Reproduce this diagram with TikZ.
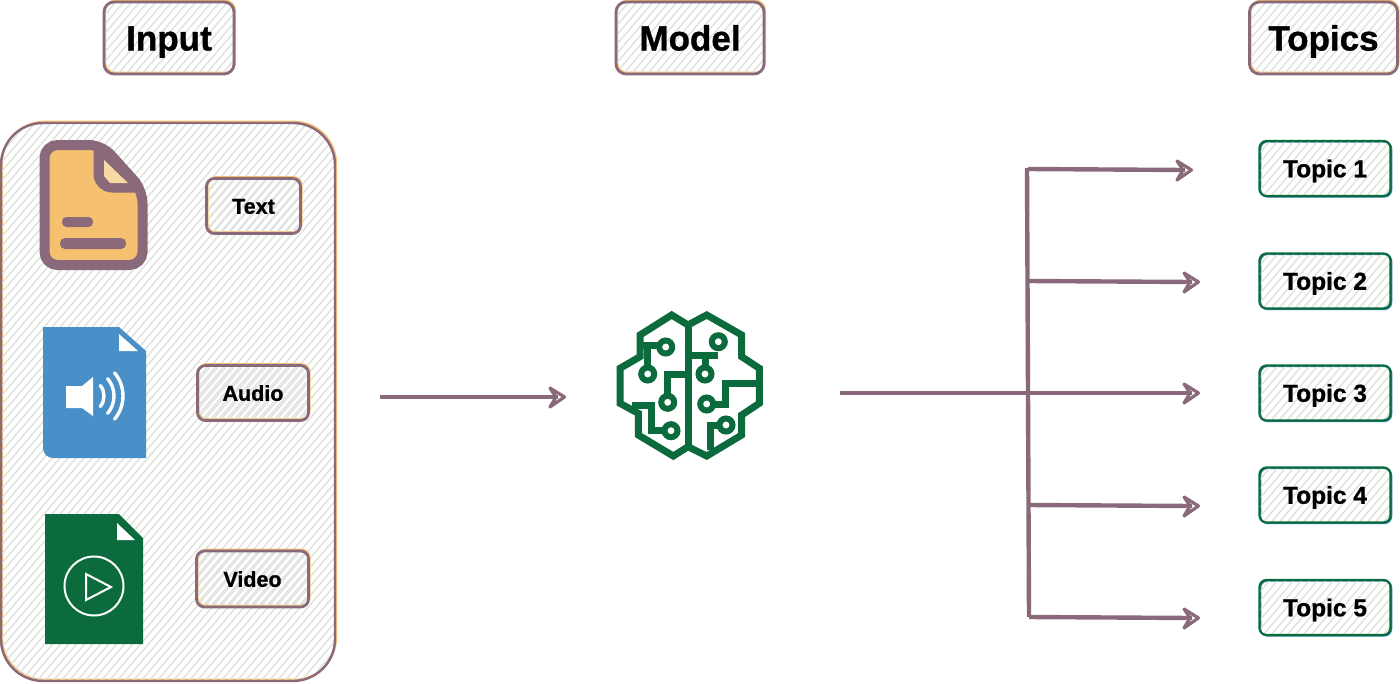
\documentclass[tikz,border=0pt]{standalone}
\usepackage{fontspec}
\setmainfont{Liberation Sans}[BoldFeatures={FakeBold=1}]
\usetikzlibrary{arrows.meta}
\definecolor{plum}{HTML}{8A6A7A}
\definecolor{sand}{HTML}{F5C06F}
\definecolor{sandlight}{HTML}{F8D9A6}
\definecolor{forest}{HTML}{0C6B3C}
\definecolor{sky}{HTML}{4A90C8}
\definecolor{hatchgrey}{HTML}{E0E2DE}
\definecolor{teal}{HTML}{2F7FB0}
\tikzset{
  x=1pt,y=-1pt,
  hatched/.style={path picture={
    \foreach \i [evaluate=\i as \j using {\i+#1}] in {-420,-412,...,420}{
      \draw[hatchgrey,line width=1.3pt] (\i-300,350)--(\i+300,-350);
      \draw[hatchgrey,line width=.7pt] (\j-296,350)--(\j+304,-350);
    }}},
  roughbox/.style={draw=plum,line width=2.8pt,rounded corners=8pt,inner sep=0pt,align=center,font=\bfseries,
    hatched=4,
    preaction={draw=sand,line width=1.8pt,transform canvas={shift={(1.2pt,1.4pt)}}}},
  headbox/.style={roughbox,minimum height=72pt,font=\bfseries\fontsize{35}{35}\selectfont,rounded corners=10pt,text height=25pt,text depth=0pt},
  mediabox/.style={roughbox,font=\bfseries\fontsize{21.5}{21.5}\selectfont,text height=15.5pt,text depth=0pt},
  topicbox/.style={draw=forest,line width=2.2pt,rounded corners=7pt,inner sep=0pt,minimum width=131pt,minimum height=55pt,
    font=\bfseries\fontsize{24.5}{24.5}\selectfont,text height=17.5pt,text depth=0pt,hatched=4,
    preaction={draw=teal,line width=1.5pt,transform canvas={shift={(1pt,-.8pt)}}}},
  flow/.style={draw=plum,line width=4.4pt},
  sketchtip/.pic={\draw[draw=plum,line width=3.2pt,line join=round] (-16,-9) -- (-1.5,0) -- (-16,10) -- (-10,0) -- cycle;},
  trunk/.style={draw=plum,line width=4.4pt},
  brainline/.style={draw=forest,line width=7pt,line join=miter},
  chip/.style={draw=forest,line width=6pt,fill=white,circle,minimum size=13pt,inner sep=0pt},
  waveline/.style={draw=white,line width=3.4pt,line cap=round},
}
\begin{document}
\begin{tikzpicture}
\useasboundingbox (0,0) rectangle (1400,683);
\fill[white] (0,0) rectangle (1400,683);

% headers
\node[headbox,minimum width=130pt] (input) at (169,38) {Input};
\node[headbox,minimum width=148pt] (model) at (690,38) {Model};
\node[headbox,minimum width=148pt] (topics) at (1323.5,38) {Topics};

% input panel
\node[roughbox,rounded corners=42pt,line width=2.4pt,minimum width=334pt,minimum height=558pt] (panel) at (168,402) {};

% document icon
\draw[draw=plum,line width=10pt,fill=sand,rounded corners=13pt] (44.5,145) -- (102,145) -- (142.5,190) -- (142.5,265) -- (44.5,265) -- cycle;
\draw[draw=plum,line width=9pt,rounded corners=14pt] (98,146) -- (98,188) -- (141,188);
\fill[plum] (98,146) -- (104,146) -- (141,188) -- (110,188) -- (98,176) -- cycle;
\fill[sandlight] (104,160) -- (128,183) -- (110,183) -- (104,176) -- cycle;
\fill[plum,rounded corners=4.5pt] (62,217) rectangle (93,227);
\fill[plum,rounded corners=5pt] (60,238) rectangle (126,249);

% audio icon
\fill[sky] (43,327) -- (119,327) -- (146,351) -- (146,458) -- (53,458) arc[start angle=90,end angle=180,radius=10] -- cycle;
\fill[white] (119,334) -- (119,351) -- (138,351) -- cycle;
\fill[white] (66,386) -- (82,386) -- (93,377) -- (93,416) -- (82,408) -- (66,408) -- cycle;
\draw[waveline] (87,396) ++(-38:17) arc[start angle=-38,end angle=38,radius=17];
\draw[waveline] (87,396) ++(-40:27) arc[start angle=-40,end angle=40,radius=27];
\draw[waveline] (87,396) ++(-40:36) arc[start angle=-40,end angle=40,radius=36];

% video icon
\fill[forest] (45,514) -- (119,514) -- (143,538) -- (143,644) -- (45,644) -- cycle;
\fill[white] (117,523) -- (117,540) -- (135,540) -- cycle;
\draw[white,line width=2pt] (94,586) circle[radius=29.5];
\draw[white,line width=2pt,line join=miter] (86,574) -- (86,600) -- (111,587) -- cycle;

% media labels
\node[mediabox,minimum width=94pt,minimum height=55pt] (text) at (253.5,206) {Text};
\node[mediabox,minimum width=111pt,minimum height=55pt] (audio) at (253,393) {Audio};
\node[mediabox,minimum width=112pt,minimum height=56pt] (video) at (252.5,579) {Video};

% brain
\begin{scope}[brainline]
\draw (688,325) -- (671.7,315) -- (640,335) -- (640,356.7) -- (620,368.3) -- (620,403.3) -- (638.3,413.3) -- (638.3,435) -- (673.3,456) -- (688,446.7) -- (706.7,456) -- (741.7,435) -- (741.7,415) -- (759.3,403.3) -- (759.3,368.3) -- (741.7,356.7) -- (741.7,335) -- (706.7,315) -- cycle;
\draw (688,325) -- (688,446.7);
\draw (640,345) -- (665.7,345);
\draw (647.7,345) -- (647.7,367);
\draw (667.7,402) -- (667.7,374) -- (688,374);
\draw (671,430.7) -- (651.7,430.7) -- (651.7,405) -- (632,405);
\draw (718.3,355) -- (688,355);
\draw (705,355) -- (705,367);
\draw (706.7,404) -- (725,404) -- (725,383.3) -- (757,383.3);
\draw (726,425) -- (710,425) -- (710,450);
\end{scope}
\node[chip] (c1) at (665.7,347) {};
\node[chip] (c2) at (647.7,374) {};
\node[chip] (c3) at (667.7,402.3) {};
\node[chip] (c4) at (671,430.7) {};
\node[chip] (c5) at (718.3,341.7) {};
\node[chip] (c6) at (705,374) {};
\node[chip] (c7) at (706.7,404) {};
\node[chip] (c8) at (726,425) {};

% topics
\node[topicbox] (t1) at (1325,168.5) {Topic 1};
\node[topicbox] (t2) at (1325,281) {Topic 2};
\node[topicbox] (t3) at (1325,393) {Topic 3};
\node[topicbox] (t4) at (1325,495) {Topic 4};
\node[topicbox] (t5) at (1325,607.5) {Topic 5};

% connectors
\coordinate (inStart) at (380,397);
\coordinate (inEnd) at (566,397);
\coordinate (outStart) at (840,393);
\coordinate (hub) at (1028,393);
\coordinate (top) at (1027,168);
\coordinate (bottom) at (1029,617);
\coordinate (b1) at (1028,169);
\coordinate (b2) at (1028,281);
\coordinate (b4) at (1029,505);
\coordinate (b5) at (1029,617);
\coordinate (e1) at (1193,170);
\coordinate (e2) at (1200,282);
\coordinate (e3) at (1200,393);
\coordinate (e4) at (1200,506);
\coordinate (e5) at (1200,618);

\draw[trunk] (top) -- (hub) -- (bottom);
\draw[flow,line width=3.6pt] (inStart) -- ([xshift=-8pt]inEnd);
\draw[flow] (outStart) -- ([xshift=-8pt]e3);
\draw[flow] (b1) -- ([xshift=-8pt]e1);
\draw[flow] (b2) -- ([xshift=-8pt]e2);
\draw[flow] (b4) -- ([xshift=-8pt]e4);
\draw[flow] (b5) -- ([xshift=-8pt]e5);
\pic at (inEnd) {sketchtip};
\pic at (e1) {sketchtip};
\pic at (e2) {sketchtip};
\pic at (e3) {sketchtip};
\pic at (e4) {sketchtip};
\pic at (e5) {sketchtip};
\end{tikzpicture}
\end{document}
